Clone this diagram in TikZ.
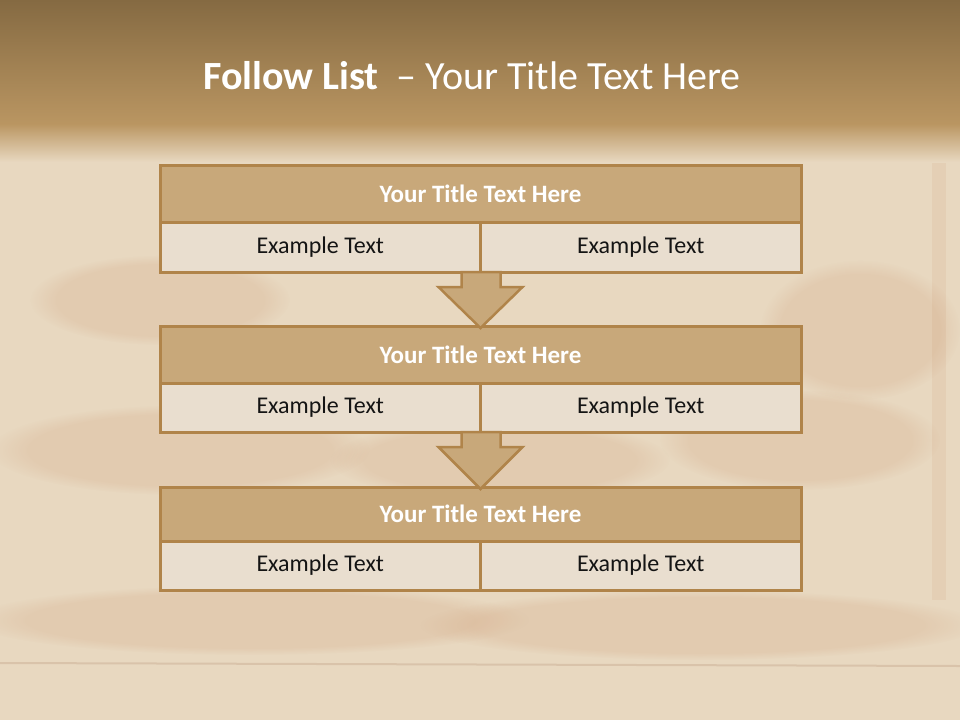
\documentclass[tikz,border=0pt]{standalone}
\usepackage{fontspec}
\setmainfont{Carlito}
\usetikzlibrary{positioning, calc, fadings}
\definecolor{hdrtop}{RGB}{133,106,66}
\definecolor{hdrbot}{RGB}{186,150,98}
\definecolor{mypaper}{RGB}{232,216,192}
\definecolor{myrust}{RGB}{184,105,55}
\definecolor{myframe}{RGB}{176,132,74}
\definecolor{mytitle}{RGB}{200,168,122}
\definecolor{mycell}{RGB}{233,222,207}
\definecolor{mytext}{RGB}{20,20,20}
\tikzset{
  titlerow/.style={rectangle, draw=myframe, fill=mytitle,
    minimum width=641pt, minimum height=57pt, inner sep=0pt, outer sep=0pt,
    line width=3pt, text=white, font=\fontsize{25}{29}\selectfont\bfseries},
  cellbox/.style={rectangle, draw=myframe, fill=mycell,
    minimum width=320.5pt, minimum height=50pt, inner sep=0pt, outer sep=0pt,
    line width=3pt, text=mytext, font=\fontsize{24}{28}\selectfont},
  flowarrow/.style={draw=myframe, fill=mytitle, line width=2.5pt, line join=miter},
  smudge/.style={fill=myrust, fill opacity=0.11,
    path fading=circle with fuzzy edge 20 percent}
}

\begin{document}
\begin{tikzpicture}[x=1pt, y=-1pt]
  % background and header band
  \fill[mypaper] (0,0) rectangle (960,720);
  \useasboundingbox (0,0) rectangle (960,720);
  \fill[smudge] (180,450) ellipse (190 and 45);
  \fill[smudge] (500,460) ellipse (170 and 40);
  \fill[smudge] (800,440) ellipse (140 and 50);
  \fill[smudge] (250,620) ellipse (280 and 35);
  \fill[smudge] (700,625) ellipse (280 and 35);
  \fill[smudge] (160,300) ellipse (130 and 45);
  \fill[smudge] (860,330) ellipse (100 and 70);
  \fill[myrust, opacity=0.08] (932,140) rectangle (946,600);
  \draw[myrust!60!gray, opacity=0.2, line width=2pt] (0,663) -- (960,666);
  \shade[top color=hdrtop, bottom color=hdrbot] (0,0) rectangle (960,125);
  \shade[top color=hdrbot, bottom color=mypaper] (0,124) rectangle (960,162);
  \node[text=white, font=\fontsize{40}{44}\selectfont] (title) at (472,76)
    {\textbf{Follow List} \ -- Your Title Text Here};

  % list blocks
  \node[titlerow] (t1) at (480.5,193.5) {Your Title Text Here};
  \node[cellbox, anchor=north west] (c1l) at (t1.south west) {Example Text};
  \node[cellbox, anchor=north east] (c1r) at (t1.south east) {Example Text};

  \node[titlerow] (t2) at (480.5,354.5) {Your Title Text Here};
  \node[cellbox, anchor=north west, minimum height=49pt] (c2l) at (t2.south west) {Example Text};
  \node[cellbox, anchor=north east, minimum height=49pt] (c2r) at (t2.south east) {Example Text};

  \node[titlerow, minimum height=54pt] (t3) at (480.5,514) {Your Title Text Here};
  \node[cellbox, anchor=north west, minimum height=49pt] (c3l) at (t3.south west) {Example Text};
  \node[cellbox, anchor=north east, minimum height=49pt] (c3r) at (t3.south east) {Example Text};

  % arrows between blocks
  \foreach \src/\dst in {c1l/t2, c2l/t3} {
    \draw[flowarrow] ($(\src.south east)+(-19,0)$) -- ++(0,15) -- ++(-23,0)
      -- ($(\dst.north)+(0,2)$) -- ($(\src.south east)+(42,15)$)
      -- ++(-22,0) -- ($(\src.south east)+(20,0)$) -- cycle;
  }
\end{tikzpicture}
\end{document}
